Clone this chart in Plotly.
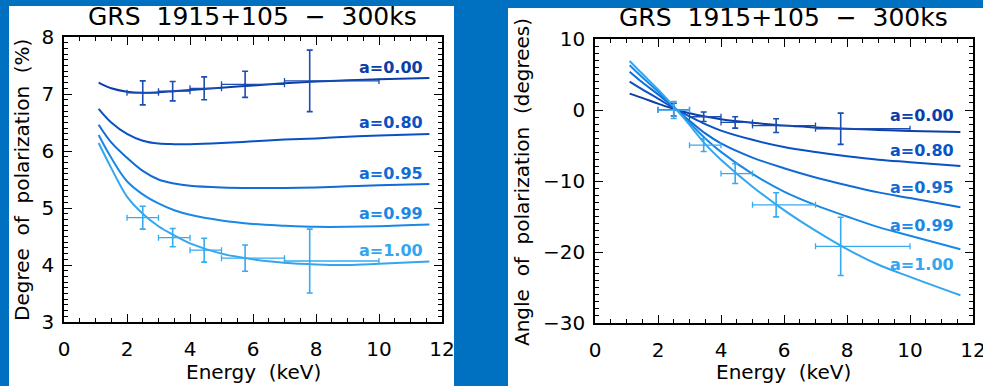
import plotly.graph_objects as go

# ---------------- data ----------------
spins = ["a=0.00", "a=0.80", "a=0.95", "a=0.99", "a=1.00"]
energy_model = [1.1, 1.5, 2.0, 2.5, 3.0, 3.5, 4.0, 5.0, 6.0, 7.0, 8.0, 9.0, 10.0, 11.6]

deg_a000 = [7.20, 7.10, 7.04, 7.02, 7.03, 7.05, 7.07, 7.11, 7.15, 7.19, 7.22, 7.24, 7.26, 7.28]
deg_a080 = [6.74, 6.50, 6.30, 6.18, 6.13, 6.12, 6.12, 6.14, 6.17, 6.20, 6.22, 6.25, 6.27, 6.30]
deg_a095 = [6.46, 6.15, 5.88, 5.65, 5.50, 5.43, 5.39, 5.36, 5.35, 5.35, 5.36, 5.38, 5.40, 5.42]
deg_a099 = [6.28, 5.88, 5.47, 5.24, 5.08, 4.96, 4.88, 4.78, 4.72, 4.69, 4.67, 4.67, 4.68, 4.71]
deg_a100 = [6.14, 5.70, 5.20, 4.90, 4.68, 4.52, 4.38, 4.20, 4.10, 4.04, 4.01, 4.00, 4.02, 4.06]

ang_a000 = [2.3, 1.7, 0.9, 0.15, -0.45, -0.9, -1.3, -1.8, -2.2, -2.45, -2.65, -2.8, -2.95, -3.1]
ang_a080 = [4.0, 2.9, 1.6, 0.25, -0.9, -2.0, -2.9, -4.2, -5.2, -5.9, -6.5, -7.0, -7.35, -7.9]
ang_a095 = [5.4, 3.9, 2.2, 0.35, -1.5, -3.3, -4.7, -6.7, -8.2, -9.5, -10.6, -11.6, -12.4, -13.7]
ang_a099 = [6.3, 4.6, 2.6, 0.45, -1.8, -4.0, -5.9, -9.0, -11.5, -13.4, -15.0, -16.5, -17.7, -19.6]
ang_a100 = [6.9, 5.1, 2.9, 0.5, -2.1, -4.8, -7.0, -10.8, -14.1, -17.0, -19.6, -21.8, -23.5, -26.1]

energy_pts = [2.5, 3.45, 4.45, 5.75, 7.8]
energy_lo = [2.0, 3.0, 4.0, 5.0, 7.0]
energy_hi = [3.0, 4.0, 5.0, 7.0, 10.0]

deg_pts_a000 = [7.02, 7.05, 7.10, 7.17, 7.23]
deg_err_a000 = [0.21, 0.17, 0.20, 0.23, 0.54]
deg_pts_a100 = [4.83, 4.48, 4.26, 4.12, 4.07]
deg_err_a100 = [0.20, 0.16, 0.21, 0.23, 0.56]

ang_pts_a000 = [0.05, -0.95, -1.75, -2.2, -2.64]
ang_err_a000 = [0.9, 0.66, 0.8, 0.97, 2.2]
ang_pts_a100 = [0.0, -4.95, -8.96, -13.35, -19.2]
ang_err_a100 = [1.2, 0.9, 1.4, 1.7, 4.1]

x_ticks = [0, 2, 4, 6, 8, 10, 12]

# ---------------- style ----------------
colors = ["#0b3ea8", "#0a52c4", "#106cd6", "#1a88e6", "#33a6ee"]
pt_dark = "#1d4db0"
pt_light = "#38aaf0"
FONT = "DejaVu Sans"
label_y_deg = [7.46, 6.50, 5.61, 4.91, 4.25]
label_y_ang = [-0.8, -5.75, -10.85, -16.3, -21.8]
W, H = 983, 386

fig = go.Figure()

deg_curves = [deg_a000, deg_a080, deg_a095, deg_a099, deg_a100]
ang_curves = [ang_a000, ang_a080, ang_a095, ang_a099, ang_a100]

for name, col, yv in zip(spins, colors, deg_curves):
    fig.add_trace(go.Scatter(x=energy_model, y=yv, mode="lines", name=name,
                             line=dict(color=col, width=2, shape="spline", smoothing=1.0),
                             xaxis="x", yaxis="y", showlegend=False))
for name, col, yv in zip(spins, colors, ang_curves):
    fig.add_trace(go.Scatter(x=energy_model, y=yv, mode="lines", name=name,
                             line=dict(color=col, width=2, shape="spline", smoothing=1.0),
                             xaxis="x2", yaxis="y2", showlegend=False))

err_plus = [h - x for h, x in zip(energy_hi, energy_pts)]
err_minus = [x - l for l, x in zip(energy_lo, energy_pts)]


def pts(xax, yax, yv, ye, col):
    fig.add_trace(go.Scatter(
        x=energy_pts, y=yv, mode="markers", xaxis=xax, yaxis=yax, showlegend=False,
        marker=dict(size=2, color=col),
        error_y=dict(type="data", array=ye, color=col, thickness=1.6, width=3),
        error_x=dict(type="data", array=err_plus, arrayminus=err_minus,
                     color=col, thickness=1.3, width=3)))


pts("x", "y", deg_pts_a000, deg_err_a000, pt_dark)
pts("x", "y", deg_pts_a100, deg_err_a100, pt_light)
pts("x2", "y2", ang_pts_a000, ang_err_a000, pt_dark)
pts("x2", "y2", ang_pts_a100, ang_err_a100, pt_light)

ann = []
for name, col, ly in zip(spins, colors, label_y_deg):
    ann.append(dict(x=11.46, y=ly, xref="x", yref="y", text="<b>" + name + "</b>",
                    showarrow=False, xanchor="right", yanchor="middle",
                    font=dict(family=FONT, size=16, color=col)))
for name, col, ly in zip(spins, colors, label_y_ang):
    ann.append(dict(x=11.46, y=ly, xref="x2", yref="y2", text="<b>" + name + "</b>",
                    showarrow=False, xanchor="right", yanchor="middle",
                    font=dict(family=FONT, size=16, color=col)))

NB = "\u00a0"
title_txt = "GRS" + NB * 2 + "1915+105" + NB * 2 + "\u2212" + NB * 2 + "300ks"


def px(x, y):
    return x / W, 1 - y / H


for cx, cy in [(252, 16), (783, 18)]:
    xx, yy = px(cx, cy)
    ann.append(dict(x=xx, y=yy, xref="paper", yref="paper", text=title_txt, showarrow=False,
                    xanchor="center", yanchor="middle", font=dict(family=FONT, size=25, color="black")))
for cx, cy in [(253, 372), (783, 372)]:
    xx, yy = px(cx, cy)
    ann.append(dict(x=xx, y=yy, xref="paper", yref="paper", text="Energy" + NB * 2 + "(keV)",
                    showarrow=False, xanchor="center", yanchor="middle",
                    font=dict(family=FONT, size=20, color="black")))
for cx, cy, t in [(22, 180, "Degree" + NB * 2 + "of" + NB * 2 + "polarization" + NB * 2 + "(%)"),
                  (522, 182, "Angle" + NB * 2 + "of" + NB * 2 + "polarization" + NB * 2 + "(degrees)")]:
    xx, yy = px(cx, cy)
    ann.append(dict(x=xx, y=yy, xref="paper", yref="paper", text=t, showarrow=False,
                    textangle=-90, xanchor="center", yanchor="middle",
                    font=dict(family=FONT, size=20, color="black")))

shapes = [
    dict(type="rect", xref="paper", yref="paper", x0=9 / W, x1=454 / W, y0=-0.01, y1=1 - 6 / H,
         fillcolor="white", line=dict(width=0), layer="below"),
    dict(type="rect", xref="paper", yref="paper", x0=508 / W, x1=1.01, y0=-0.01, y1=1 - 8 / H,
         fillcolor="white", line=dict(width=0), layer="below"),
]

common = dict(showline=True, linecolor="black", linewidth=1.5, mirror="allticks",
              ticks="inside", ticklen=8, tickwidth=1.2, tickcolor="black",
              showgrid=False, zeroline=False, automargin=False, ticklabeloverflow="allow",
              tickfont=dict(family=FONT, size=20, color="black"))

xcommon = dict(common, range=[0, 12], tickmode="array", tickvals=x_ticks,
               ticktext=[str(v) for v in x_ticks], ticklabelstandoff=8,
               minor=dict(dtick=0.5, tick0=0, ticks="inside", ticklen=4, tickwidth=1, tickcolor="black"))

fig.update_layout(
    width=W, height=H,
    margin=dict(l=0, r=0, t=0, b=0, pad=0, autoexpand=False),
    paper_bgcolor="#0070c0", plot_bgcolor="white",
    xaxis=dict(xcommon, domain=[64 / W, 442 / W], anchor="y"),
    yaxis=dict(common, domain=[1 - 322 / H, 1 - 37 / H], range=[3, 8], dtick=1, tick0=0,
               anchor="x", ticklabelstandoff=4,
               minor=dict(dtick=0.1, tick0=0, ticks="inside", ticklen=4, tickwidth=1, tickcolor="black")),
    xaxis2=dict(xcommon, domain=[595 / W, 973 / W], anchor="y2"),
    yaxis2=dict(common, domain=[1 - 323 / H, 1 - 39 / H], range=[-30, 10], dtick=10, tick0=0,
                anchor="x2", ticklabelstandoff=4,
                minor=dict(dtick=1, tick0=0, ticks="inside", ticklen=4, tickwidth=1, tickcolor="black")),
    annotations=ann, shapes=shapes,
)

fig.write_html("out.html", config={"displayModeBar": False},
               post_script="document.body.style.margin='0';document.body.style.overflow='hidden';"
                           "document.body.style.background='#0070c0';")
